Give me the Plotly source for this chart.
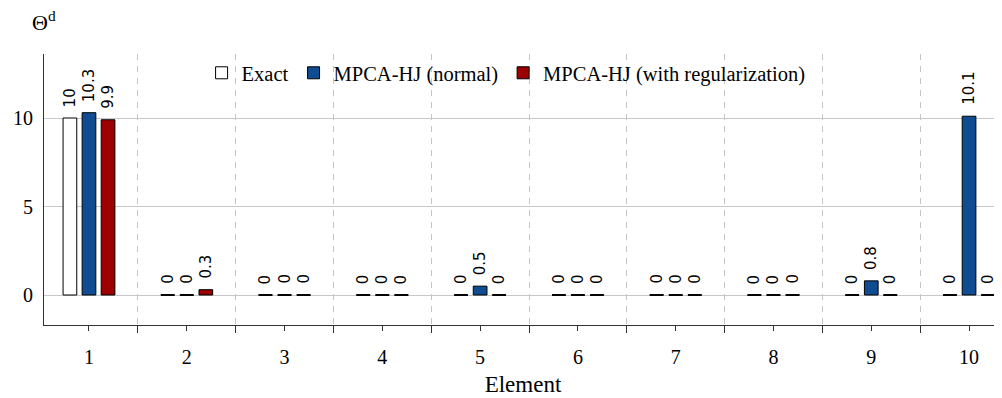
import plotly.graph_objects as go

elements = [1, 2, 3, 4, 5, 6, 7, 8, 9, 10]
exact = [10, 0, 0, 0, 0, 0, 0, 0, 0, 0]
mpca_normal = [10.3, 0, 0, 0, 0.5, 0, 0, 0, 0.8, 10.1]
mpca_reg = [9.9, 0.3, 0, 0, 0, 0, 0, 0, 0, 0]

series = [
    ("Exact", exact, "white", -0.195),
    ("MPCA-HJ (normal)", mpca_normal, "#0f4c92", 0.0),
    ("MPCA-HJ (with regularization)", mpca_reg, "#9c0000", 0.195),
]
BW = 0.14

SERIF = "Liberation Serif"
fig = go.Figure()
annotations = []
for name, vals, col, off in series:
    fig.add_trace(go.Bar(
        x=elements, y=vals, name=name, width=BW, offset=off - BW / 2,
        marker=dict(color=col, line=dict(color="black", width=1)),
    ))
    # zero-valued bars drawn as flat outlines
    zx, zy = [], []
    for e, v in zip(elements, vals):
        if v == 0:
            zx += [e + off - BW / 2, e + off + BW / 2, None]
            zy += [0, 0, None]
    if zx:
        fig.add_trace(go.Scatter(x=zx, y=zy, mode="lines", showlegend=False,
                                 hoverinfo="skip",
                                 line=dict(color="black", width=1.8)))
    for e, v in zip(elements, vals):
        annotations.append(dict(
            x=e + off, y=v, xref="x", yref="y", text=f"{v:g}",
            showarrow=False, textangle=-90, xanchor="center", yanchor="bottom",
            yshift=9, font=dict(family="DejaVu Sans", size=15, color="black"),
        ))

annotations.append(dict(
    x=-14 / 958, y=1.122, xref="paper", yref="paper", xanchor="left", yanchor="middle",
    text="Θ<sup>d</sup>", showarrow=False,
    font=dict(family=SERIF, size=22, color="black"),
))

XR = [0.54, 10.337]
YR = [-1.695, 13.616]
axcol = "#333333"
fig.update_layout(
    width=994, height=390,
    margin=dict(l=36, r=0, t=46, b=73, autoexpand=False),
    paper_bgcolor="white", plot_bgcolor="white",
    barmode="overlay",
    font=dict(family=SERIF, size=20, color="black"),
    annotations=annotations,
    showlegend=True,
    legend=dict(orientation="h", x=0.1645, y=0.93, xanchor="left", yanchor="middle",
                bgcolor="rgba(0,0,0,0)", font=dict(family=SERIF, size=20.5),
                traceorder="normal"),
    xaxis=dict(
        range=XR, tickmode="array", tickvals=elements, ticktext=[str(e) for e in elements],
        ticks="outside", ticklen=5, tickcolor=axcol, showgrid=False, zeroline=False,
        showline=True, linecolor=axcol, linewidth=1, automargin=False,
        tickfont=dict(family=SERIF, size=20), ticklabelstandoff=9,
        minor=dict(tickmode="linear", tick0=0.5, dtick=1, ticks="outside", ticklen=7,
                   tickcolor=axcol, showgrid=True, griddash="6px,6px",
                   gridcolor="#c4c4c4", gridwidth=1),
        title=dict(text="Element", font=dict(family=SERIF, size=23), standoff=8),
    ),
    xaxis2=dict(
        range=XR, overlaying="x", side="top", anchor="y", tickmode="linear", tick0=0.5,
        dtick=0.5, ticks="outside", ticklen=10, tickcolor=axcol, showticklabels=False,
        showline=True, linecolor=axcol, linewidth=1, showgrid=False, zeroline=False,
        automargin=False,
    ),
    yaxis=dict(
        range=YR, tickmode="array", tickvals=[0, 5, 10], showgrid=True,
        gridcolor="#c8c8c8", gridwidth=1, zeroline=False, showline=True,
        linecolor=axcol, linewidth=1, ticks="", tickfont=dict(family=SERIF, size=20),
        ticklabelstandoff=6, automargin=False,
    ),
)
fig.write_html("out.html")
